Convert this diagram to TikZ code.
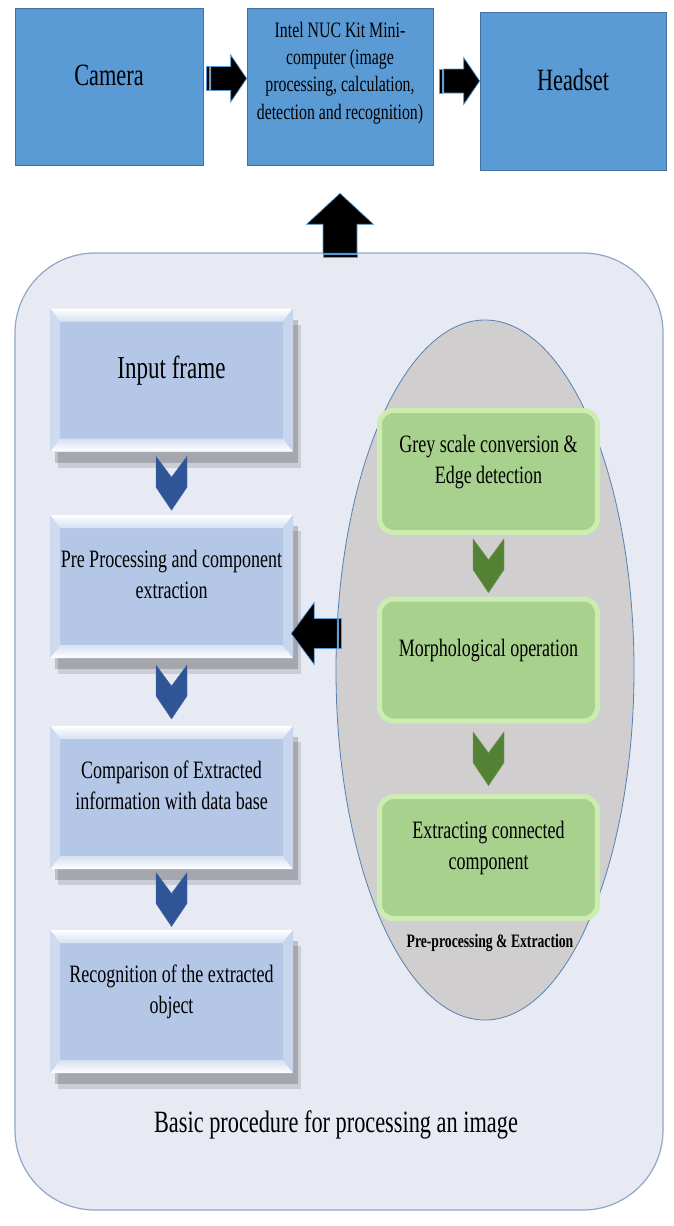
\documentclass[tikz,border=0pt]{standalone}
\usepackage{fontspec}
\setmainfont[FakeStretch=0.72]{Liberation Serif}
\usetikzlibrary{shapes.geometric,shadows,calc}

\definecolor{topblue}{RGB}{91,155,213}
\definecolor{topedge}{RGB}{65,113,156}
\definecolor{panelfill}{RGB}{231,234,243}
\definecolor{paneledge}{RGB}{143,166,200}
\definecolor{bevelblue}{RGB}{180,199,231}
\definecolor{chevblue}{RGB}{47,85,151}
\definecolor{ovalgrey}{RGB}{208,206,206}
\definecolor{ovaledge}{RGB}{84,130,180}
\definecolor{greenfill}{RGB}{169,209,142}
\definecolor{greenglow}{RGB}{204,236,178}
\definecolor{chevgreen}{RGB}{84,130,53}
\definecolor{arrowedge}{RGB}{91,155,213}

\newcommand{\topfont}{\fontsize{31}{37}\selectfont}
\newcommand{\nucfont}{\fontsize{22}{27.3}\selectfont}
\newcommand{\inpfont}{\fontsize{32}{38}\selectfont}
\newcommand{\boxfont}{\fontsize{25}{31}\selectfont}
\newcommand{\tagfont}{\fontsize{19}{23}\selectfont}
\newcommand{\capfont}{\fontsize{31}{37}\selectfont}

\tikzset{
  arrowdims/.code args={#1/#2/#3/#4}{\def\arlen{#1}\def\arhead{#2}\def\arhalf{#3}\def\arshaft{#4}},
  blockarrow/.pic={
    \filldraw[fill=black,draw=arrowedge,line width=.7pt] (-\arlen,-\arshaft) rectangle (-\arlen+2.5,\arshaft);
    \filldraw[fill=black,draw=arrowedge,line width=.7pt] (-\arlen+4,-\arshaft) -- (-\arhead,-\arshaft) -- (-\arhead,-\arhalf) -- (0,0) -- (-\arhead,\arhalf) -- (-\arhead,\arshaft) -- (-\arlen+4,\arshaft) -- cycle;
  },
  chev/.pic={
    \filldraw (-15.5,-27) -- (0,-6) -- (15.5,-27) -- (15.5,4) -- (0,27) -- (-15.5,4) -- cycle;
  }
}

\begin{document}
\begin{tikzpicture}[x=1pt,y=-1pt,
  topbox/.style={rectangle,fill=topblue,draw=topedge,line width=.6pt,minimum width=186pt,minimum height=157pt,align=center},
  bevelbox/.style={rectangle,fill=bevelblue,minimum width=243pt,minimum height=143pt,align=center,font=\boxfont,text depth=24pt,
    drop shadow={shadow xshift=5pt,shadow yshift=-11pt,opacity=.18,fill=black},
    drop shadow={shadow xshift=8pt,shadow yshift=-16pt,opacity=.12,fill=black},
    path picture={
      \coordinate (nw) at (path picture bounding box.north west);
      \coordinate (ne) at (path picture bounding box.north east);
      \coordinate (sw) at (path picture bounding box.south west);
      \coordinate (se) at (path picture bounding box.south east);
      \shade[top color=white,bottom color=white!45!bevelblue] (nw) -- (ne) -- ([shift={(-10pt,-13pt)}]ne) -- ([shift={(10pt,-13pt)}]nw) -- cycle;
      \shade[top color=white!45!bevelblue,bottom color=white] (sw) -- (se) -- ([shift={(-10pt,13pt)}]se) -- ([shift={(10pt,13pt)}]sw) -- cycle;
      \fill[white!35!bevelblue] (nw) -- ([shift={(10pt,-13pt)}]nw) -- ([shift={(10pt,13pt)}]sw) -- (sw) -- cycle;
      \fill[white!25!bevelblue] (ne) -- ([shift={(-10pt,-13pt)}]ne) -- ([shift={(-10pt,13pt)}]se) -- (se) -- cycle;
    }},
  greenbox/.style={rectangle,rounded corners=14pt,fill=greenfill,draw=greenglow,line width=5pt,minimum width=218pt,minimum height=122pt,align=center,font=\boxfont,text depth=24pt}]

\useasboundingbox (0,0) rectangle (673,1226);

\node[topbox,font=\topfont,minimum width=188pt,text depth=23pt] (cam) at (109,86.5) {Camera};
\node[topbox,font=\nucfont,text depth=32pt] (nuc) at (340,86.5) {Intel NUC Kit Mini-\\computer (image\\processing, calculation,\\detection and recognition)};
\node[topbox,font=\topfont,minimum height=158pt,text depth=23pt] (head) at (573,91) {Headset};

\node[rectangle,rounded corners=80pt,fill=panelfill,draw=paneledge,line width=1.2pt,minimum width=648pt,minimum height=957pt] (proc) at (339,731.5) {};
\node[ellipse,fill=ovalgrey,draw=ovaledge,line width=.8pt,minimum width=298pt,minimum height=700pt] (oval) at (485,670) {};

\node[bevelbox,font=\inpfont,text depth=25pt] (inp) at (171.5,380) {Input frame};
\node[bevelbox] (pre) at (171.5,586.5) {Pre Processing and component\\extraction};
\node[bevelbox] (cmp) at (171.5,797.5) {Comparison of Extracted\\information with data base};
\node[bevelbox] (rec) at (171.5,1001.5) {Recognition of the extracted\\object};

\node[greenbox] (grey) at (488.5,471.5) {Grey scale conversion \&\\Edge detection};
\node[greenbox] (morph) at (488.5,660) {Morphological operation};
\node[greenbox] (extr) at (488.5,857.5) {Extracting connected\\component};
\node[font=\tagfont\bfseries] (tag) at (490,943) {Pre-processing \& Extraction};

\node[font=\capfont] (cap) at (336,1125) {Basic procedure for processing an image};

\pic[fill=chevblue,draw=chevblue!85!white] at ($(inp.south)!.5!(pre.north)$) {chev};
\pic[fill=chevblue,draw=chevblue!85!white] at ($(pre.south)!.5!(cmp.north)$) {chev};
\pic[fill=chevblue,draw=chevblue!85!white] at ($(cmp.south)!.5!(rec.north)$) {chev};
\pic[fill=chevgreen,draw=chevgreen!80!white] at ($(grey.south)!.5!(morph.north)$) {chev};
\pic[fill=chevgreen,draw=chevgreen!80!white] at ($(morph.south)!.5!(extr.north)$) {chev};

\pic[arrowdims=40/16/23.5/12] at ([yshift=8pt]nuc.west) {blockarrow};
\pic[arrowdims=40/16/23.5/12] at ([yshift=10pt]head.west) {blockarrow};
\pic[arrowdims=64/31/33.5/17,rotate=90] at ([yshift=-28pt]nuc.south) {blockarrow};
\pic[arrowdims=50/23/31/15,rotate=180] at ([shift={(-2pt,-47pt)}]pre.east) {blockarrow};

\end{tikzpicture}
\end{document}
